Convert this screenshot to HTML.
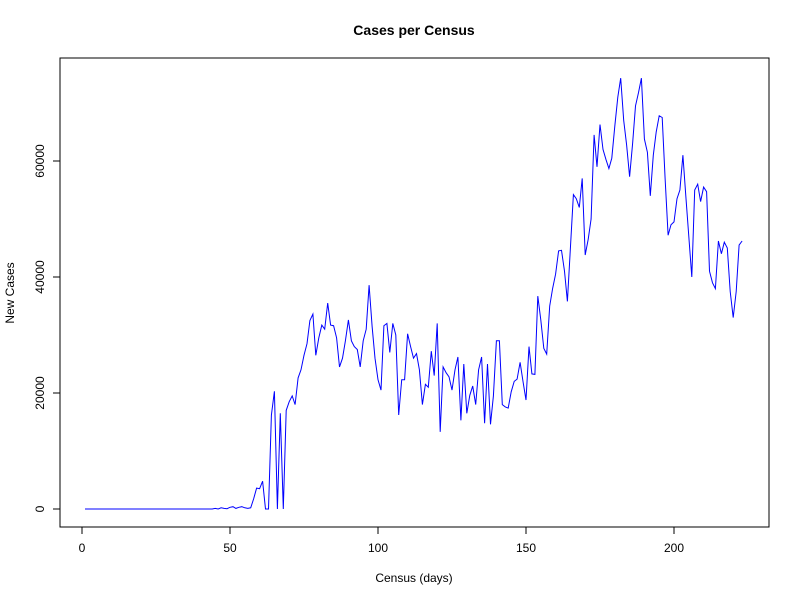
<!DOCTYPE html>
<html><head><meta charset="utf-8"><style>
body{margin:0;background:#fff;}
svg text{font-family:"Liberation Sans",sans-serif;fill:#000;}
</style></head><body>
<svg id="chart" width="800" height="600" xmlns="http://www.w3.org/2000/svg">
<rect width="800" height="600" fill="#fff"/>
<text x="414" y="35" text-anchor="middle" font-size="14" font-weight="bold">Cases per Census</text>
<text x="414" y="582" text-anchor="middle" font-size="12">Census (days)</text>
<text x="14" y="293" text-anchor="middle" font-size="12" transform="rotate(-90 14 293)">New Cases</text>
<rect x="60" y="58" width="709" height="469" fill="none" stroke="#000"/>
<g id="xaxis"></g>
<g id="yaxis"></g>
<polyline id="line" fill="none" stroke="#0000ff" stroke-width="1"/>
</svg>
<script>
const xTicks=[0,50,100,150,200];
const yTicks=[0,20000,40000,60000];
const early=[0,0,0,0,0,0,0,0,0,0,0,0,0,0,0,0,0,0,0,0,0,0,0,0,0,0,0,0,0,0,0,0,0,0,0,0,0,0,0,0,0,0,0,0,
100,0,200,100,50,300,400,100,300,400,200,100,200,1800];
const later=[3600,3500,4800,0,0,16200,20300,0,16500,0,17000,18500,19500,18000,22600,24000,26500,28500,32500,33600,
26500,29500,31700,31000,35500,31700,31600,29500,24500,26000,29000,32600,29000,28000,27500,24500,29000,31000,38600,31500,
26000,22300,20500,31600,32000,27000,32000,30000,16200,22300,22300,30200,28000,26000,26800,24000,18000,21500,21000,27200,23000,
32000,13300,24500,23500,22800,20500,24000,26200,15300,25000,16500,19600,21200,18000,24000,26200,14800,25000,14600,19500,
29000,29000,18000,17600,17400,20200,22000,22400,25300,22000,18800,28000,23300,23200,36700,32600,27700,26700,35000,38000,
40500,44500,44600,41000,35800,45000,54200,53500,52000,57000,43800,46500,50000,64500,59000,66300,62000,60300,58700,60500,
66000,71000,74300,67000,62800,57300,63000,69500,71800,74300,63800,61500,54000,61000,65000,67800,67500,57000,47200,49000,49500,
53500,55000,61000,54000,47000,40000,55000,56000,53000,55500,54700,41000,39000,38000,46200,44000,46000,45000,37500,33000,
37500,45500,46200];
const cases=early.concat(later);
const days=cases.map((_,i)=>i+1);
function sx(d){return 82+d*2.96;}
function sy(v){return 509-v*0.0058;}
const ns="http://www.w3.org/2000/svg";
const xa=document.getElementById('xaxis'), ya=document.getElementById('yaxis');
function mk(tag,attrs,parent){const e=document.createElementNS(ns,tag);for(const k in attrs)e.setAttribute(k,attrs[k]);parent.appendChild(e);return e;}
mk('line',{x1:sx(xTicks[0]),x2:sx(xTicks[xTicks.length-1]),y1:527,y2:527,stroke:'#000'},xa);
xTicks.forEach(t=>{
  const l=mk('line',{x1:sx(t),x2:sx(t),y1:527,y2:534,stroke:'#000'},xa);
  
  
  const tx=mk('text',{x:sx(t),y:552,'text-anchor':'middle','font-size':12},xa);
  tx.textContent=t;
  
  
});
mk('line',{x1:60,x2:60,y1:sy(yTicks[0]),y2:sy(yTicks[yTicks.length-1]),stroke:'#000'},ya);
yTicks.forEach(t=>{
  const l=mk('line',{x1:53,x2:60,y1:sy(t),y2:sy(t),stroke:'#000'},ya);
  
  
  const tx=mk('text',{x:0,y:0,'text-anchor':'middle','font-size':12,transform:`translate(44 ${sy(t)}) rotate(-90)`},ya);
  tx.textContent=t;
  
  
});
document.getElementById('line').setAttribute('points',days.map((d,i)=>sx(d).toFixed(1)+','+sy(cases[i]).toFixed(1)).join(' '));
</script>
</body></html>
